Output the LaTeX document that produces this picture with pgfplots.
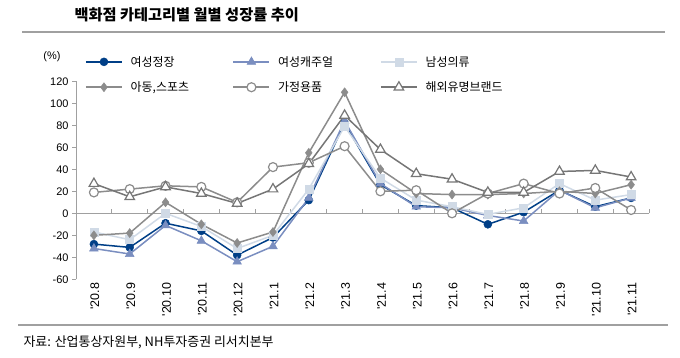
\documentclass[border=0pt]{standalone}
\usepackage{fontspec}
\setmainfont{Liberation Sans}
\newfontfamily\kr{Noto Sans CJK KR}
\usepackage{pgfplots}
\pgfplotsset{compat=1.18}
\definecolor{cA}{RGB}{0,63,135}
\definecolor{cB}{RGB}{122,142,192}
\definecolor{cC}{RGB}{208,218,230}
\definecolor{cD}{RGB}{140,140,140}
\definecolor{cE}{RGB}{140,140,140}
\definecolor{cF}{RGB}{118,118,118}
\definecolor{ax}{RGB}{160,160,160}
\begin{document}
\begin{tikzpicture}[x=1bp,y=1bp]
\useasboundingbox (0,0) rectangle (680,357);
\node[anchor=west, font=\kr\bfseries\fontsize{15.3}{17}\selectfont] at (71,342) {백화점 카테고리별 월별 성장률 추이};
\draw[ax, line width=1.2bp] (22,325) -- (665,325);
\draw[ax, line width=2bp] (18,32) -- (668,32);
\node[anchor=west, font=\kr\fontsize{13}{15}\selectfont] at (20,15) {자료: 산업통상자원부, NH투자증권 리서치본부};
\node[font=\fontsize{11}{13}\selectfont] at (52,300) {(\%)};
\begin{axis}[
  at={(76bp,77.7bp)}, anchor=south west, scale only axis,
  width=573bp, height=198bp,
  xmin=-0.5, xmax=15.5, ymin=-60, ymax=120,
  xtick={0,...,15},
  xticklabels={\textquotesingle20.8,\textquotesingle20.9,\textquotesingle20.10,\textquotesingle20.11,\textquotesingle20.12,\textquotesingle21.1,\textquotesingle21.2,\textquotesingle21.3,\textquotesingle21.4,\textquotesingle21.5,\textquotesingle21.6,\textquotesingle21.7,\textquotesingle21.8,\textquotesingle21.9,\textquotesingle21.10,\textquotesingle21.11},
  ytick={-60,-40,-20,0,20,40,60,80,100,120},
  yticklabels={-60,-40,-20,0,20,40,60,80,100,120},
  axis x line*=bottom, axis y line*=left,
  x axis line style={draw=none},
  y axis line style={ax, line width=1bp},
  xtick style={draw=none},
  ytick style={ax, line width=1bp},
  ytick align=outside, major tick length=4bp,
  xticklabel style={rotate=90, anchor=east, font=\fontsize{12.5}{14}\selectfont, yshift=-1bp},
  yticklabel style={font=\fontsize{11}{13}\selectfont},
  clip=false,
  legend columns=3,
  legend style={draw=none, fill=none, at={(axis description cs:0.0105,1.148)}, anchor=north west,
    font=\kr\fontsize{12}{14}\selectfont, row sep=10bp,
    /tikz/every even column/.append style={column sep=3bp},
    /tikz/every odd column/.append style={column sep=6bp}},
  legend image code/.code={\draw[mark repeat=2,mark phase=2,#1] plot coordinates {(0bp,0bp) (18bp,0bp) (36bp,0bp)};},
  every axis plot/.append style={line width=1.5bp},
]
\draw[ax, line width=1bp] (axis cs:-0.5,0) -- (axis cs:15.5,0);
\pgfplotsinvokeforeach{0,...,15}{\draw[ax, line width=1bp] (axis cs:#1.5,0) -- ++(0bp,4bp);}
\addplot[cA, mark=*, mark size=4bp, mark options={solid, fill=cA, line width=0.5bp}] coordinates {
(0,-28)(1,-31)(2,-9)(3,-16)(4,-38)(5,-22)(6,12)(7,82)(8,26)(9,7)(10,5)(11,-10)(12,1)(13,21)(14,6)(15,14)};
\addlegendentry{\makebox[97bp][l]{여성정장}}
\addplot[cB, mark=triangle*, mark size=5bp, mark options={solid, fill=cB, line width=0.5bp}] coordinates {
(0,-32)(1,-37)(2,-11)(3,-25)(4,-44)(5,-30)(6,14)(7,84)(8,27)(9,6)(10,5)(11,-2)(12,-7)(13,21)(14,5)(15,14)};
\addlegendentry{\makebox[97bp][l]{여성캐주얼}}
\addplot[cC, mark=square*, mark size=4bp, mark options={solid, fill=cC, line width=0.5bp}] coordinates {
(0,-17)(1,-24)(2,0)(3,-12)(4,-32)(5,-20)(6,22)(7,79)(8,32)(9,12)(10,6)(11,-1)(12,5)(13,27)(14,12)(15,17)};
\addlegendentry{\makebox[97bp][l]{남성의류}}
\addplot[cD, mark=diamond*, mark size=4.5bp, mark options={solid, fill=cD, line width=0.5bp}] coordinates {
(0,-20)(1,-18)(2,10)(3,-10)(4,-27)(5,-17)(6,55)(7,110)(8,40)(9,18)(10,17)(11,17)(12,18)(13,20)(14,18)(15,26)};
\addlegendentry{\makebox[97bp][l]{아동,스포츠}}
\addplot[cE, mark=*, mark size=4.5bp, mark options={solid, fill=white, draw=cE, line width=1.2bp}] coordinates {
(0,19)(1,22)(2,25)(3,24)(4,10)(5,42)(6,46)(7,61)(8,20)(9,21)(10,0)(11,18)(12,27)(13,18)(14,23)(15,3)};
\addlegendentry{\makebox[97bp][l]{가정용품}}
\addplot[cF, mark=triangle*, mark size=5.5bp, mark options={solid, fill=white, draw=cF, line width=1.2bp}] coordinates {
(0,27)(1,15)(2,24)(3,18)(4,9)(5,22)(6,45)(7,89)(8,58)(9,36)(10,31)(11,19)(12,19)(13,38)(14,39)(15,33)};
\addlegendentry{\makebox[97bp][l]{해외유명브랜드}}
\end{axis}
\end{tikzpicture}
\end{document}
